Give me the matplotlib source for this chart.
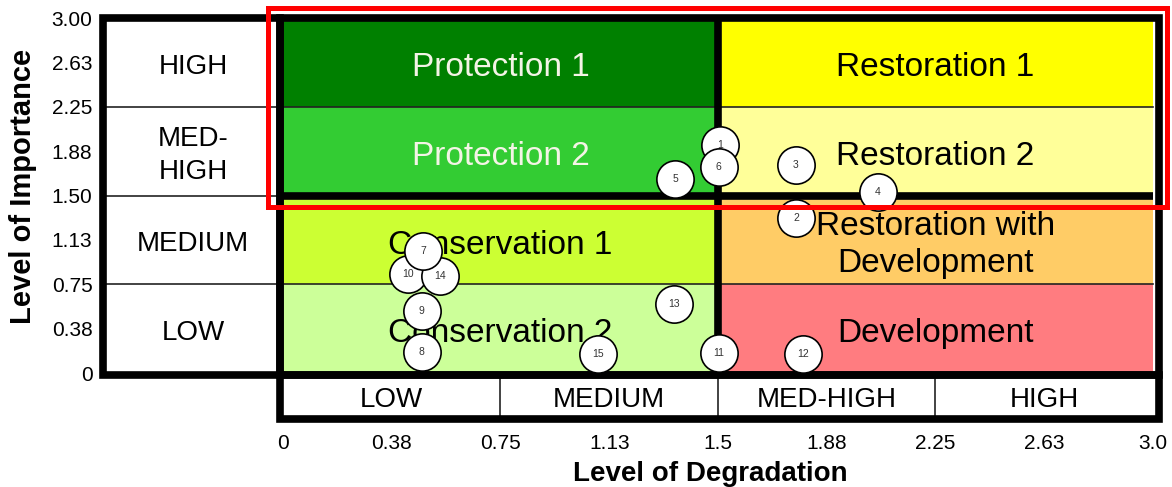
import matplotlib
matplotlib.use("Agg")
import matplotlib.pyplot as plt
from matplotlib.patches import Rectangle

plt.rcParams['font.family'] = ['Liberation Sans', 'DejaVu Sans']

# zones of the matrix (degradation on x, importance on y)
zone_names = ['Protection 1', 'Protection 2', 'Conservation 1', 'Conservation 2',
              'Restoration 1', 'Restoration 2', 'Restoration with\nDevelopment', 'Development']
zone_x0 = [0, 0, 0, 0, 1.5, 1.5, 1.5, 1.5]
zone_y0 = [2.25, 1.5, 0.75, 0, 2.25, 1.5, 0.75, 0]
zone_w = 1.5
zone_h = 0.75
zone_colors = ['#008000', '#33cc33', '#ccff33', '#ccff99',
               '#ffff00', '#ffff99', '#ffcc66', '#ff7c80']
zone_text = ['#f4f4e6', '#f4f4e6', 'black', 'black', 'black', 'black', 'black', 'black']

# class labels
imp_levels = ['LOW', 'MEDIUM', 'MED-\nHIGH', 'HIGH']
deg_levels = ['LOW', 'MEDIUM', 'MED-HIGH', 'HIGH']
level_bounds = [0, 0.75, 1.5, 2.25, 3.0]

# ticks
tick_vals = [0, 0.375, 0.75, 1.125, 1.5, 1.875, 2.25, 2.625, 3.0]
xtick_labels = ['0', '0.38', '0.75', '1.13', '1.5', '1.88', '2.25', '2.63', '3.0']
ytick_labels = ['0', '0.38', '0.75', '1.13', '1.50', '1.88', '2.25', '2.63', '3.00']

# sites
site_ids = [1, 2, 3, 4, 5, 6, 7, 8, 9, 10, 11, 12, 13, 14, 15]
site_deg = [1.507, 1.769, 1.769, 2.052, 1.352, 1.503, 0.483, 0.479, 0.479, 0.431,
            1.503, 1.793, 1.348, 0.541, 1.086]
site_imp = [1.927, 1.310, 1.758, 1.530, 1.640, 1.741, 1.031, 0.177, 0.524, 0.837,
            0.169, 0.161, 0.583, 0.820, 0.161]
draw_order = [1, 2, 3, 4, 5, 6, 8, 9, 10, 11, 12, 13, 14, 15, 7]

fig = plt.figure(figsize=(11.72, 4.87), dpi=100)
ax = fig.add_axes([98 / 1172, 63 / 487, 1070 / 1172, 416 / 487])
ax.set_xlim(-0.638, 3.052)
ax.set_ylim(-0.431, 3.085)
for s in ax.spines.values():
  s.set_visible(False)

LEFT = -0.62
BOTTOM = -0.39
THICK = 5.5
THIN = 1.2

# colored zones
for name, x0, y0, c, tc in zip(zone_names, zone_x0, zone_y0, zone_colors, zone_text):
  ax.add_patch(Rectangle((x0, y0), zone_w, zone_h, facecolor=c, edgecolor='none', zorder=1))
  ax.text(x0 + zone_w / 2, y0 + zone_h / 2 - 0.045, name, ha='center', va='center',
          fontsize=24, color=tc, linespacing=1.25, zorder=2)

# thin separators
for b in level_bounds[1:-1]:
  xe = 3.0 if b != 1.5 else 0
  ax.plot([LEFT, xe], [b, b], color='#222222', lw=THIN, zorder=3)
  ax.plot([b, b], [BOTTOM, 0], color='#222222', lw=THIN, zorder=3)

# class labels
for i, lab in enumerate(imp_levels):
  yc = (level_bounds[i] + level_bounds[i + 1]) / 2
  ax.text(LEFT / 2, yc - 0.035, lab, ha='center', va='center', fontsize=20,
          linespacing=1.35, zorder=4)
for i, lab in enumerate(deg_levels):
  xc = (level_bounds[i] + level_bounds[i + 1]) / 2
  ax.text(xc, BOTTOM / 2 - 0.03, lab, ha='center', va='center', fontsize=20, zorder=4)

# thick borders
ax.plot([1.5, 1.5], [0, 3.0], color='black', lw=THICK, zorder=5, solid_capstyle='butt')
ax.plot([0, 3.0], [1.5, 1.5], color='black', lw=THICK, zorder=5, solid_capstyle='butt')
for (x0, y0, w, h) in [(-0.012, -0.02, 3.034, 3.02), (LEFT, -0.02, -0.012 - LEFT, 3.02),
                       (-0.012, BOTTOM, 3.034, -0.02 - BOTTOM)]:
  ax.add_patch(Rectangle((x0, y0), w, h, fill=False, edgecolor='black', lw=THICK,
                         joinstyle='miter', zorder=6, clip_on=False))

# site circles
for k, sid in enumerate(draw_order):
  i = site_ids.index(sid)
  ax.scatter(site_deg[i], site_imp[i], s=720, facecolor='white', edgecolor='black',
             linewidth=1.2, zorder=10 + 2 * k, clip_on=False)
  ax.text(site_deg[i], site_imp[i], str(sid), ha='center', va='center', fontsize=7.5,
          color='#333333', zorder=11 + 2 * k)

# highlight box
ax.add_patch(Rectangle((-0.052, 1.403), 3.102, 1.682, fill=False, edgecolor='#ff0000',
                       lw=3.6, zorder=50, clip_on=False))

ax.set_xticks(tick_vals)
ax.set_xticklabels(xtick_labels)
ax.set_yticks(tick_vals)
ax.set_yticklabels(ytick_labels)
ax.tick_params(axis='both', length=0, labelsize=15)
ax.tick_params(axis='x', pad=7)
ax.tick_params(axis='y', pad=4)

ax.set_xlabel('Level of Degradation', fontsize=20, fontweight='bold')
ax.xaxis.set_label_coords(0.572, -0.088)
ax.set_ylabel('Level of Importance', fontsize=21, fontweight='bold')
ax.yaxis.set_label_coords(-0.057, 0.57)

fig.savefig('out.png', dpi=100)
